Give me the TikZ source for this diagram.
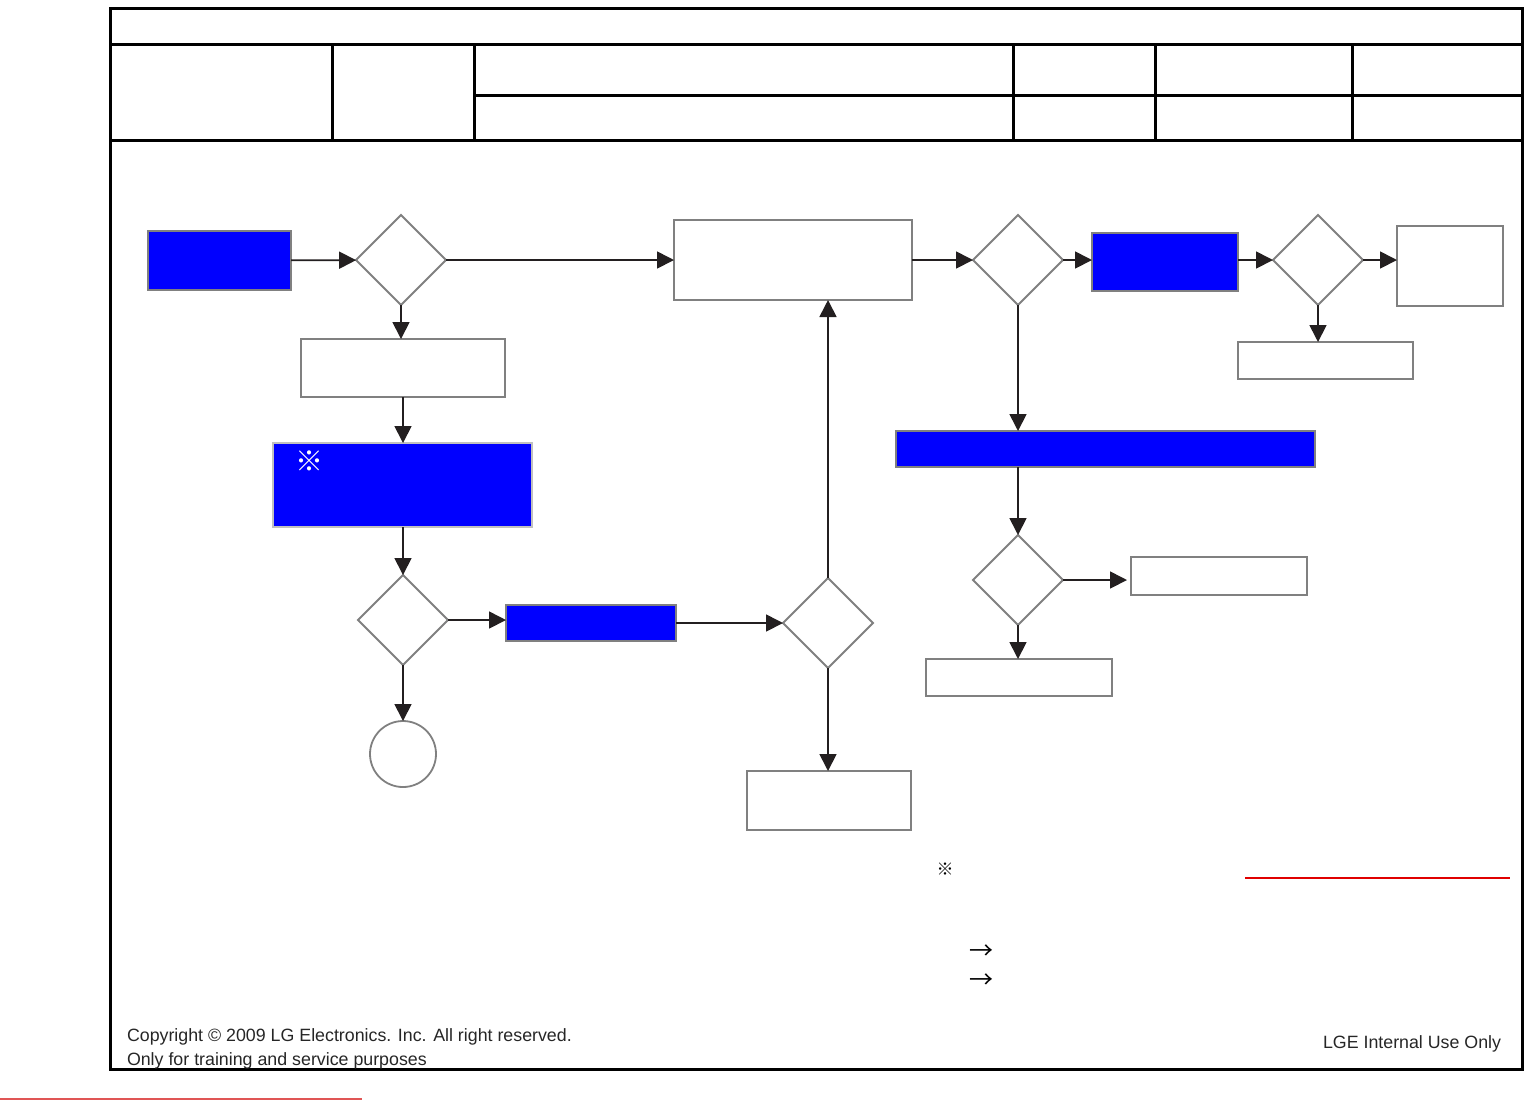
\documentclass[tikz,border=0pt]{standalone}
\usepackage{fontspec}
\setmainfont{Liberation Sans}
\newfontfamily\cjk{Noto Sans CJK SC}
\usetikzlibrary{shapes.geometric,arrows.meta}
\definecolor{pblue}{HTML}{0000FF}
\definecolor{bord}{HTML}{808080}
\definecolor{lbord}{HTML}{C0C0C0}
\definecolor{ink}{HTML}{231F20}
\definecolor{redl}{HTML}{E00000}
\definecolor{redm}{HTML}{E05555}
\tikzset{
  frame/.style={line width=1.5pt, black},
  wbox/.style={rectangle, draw=bord, fill=white, line width=0.9pt, inner sep=0pt, outer sep=0pt},
  bbox/.style={rectangle, draw=bord, fill=pblue, line width=0.9pt, inner sep=0pt, outer sep=0pt},
  dia/.style={diamond, draw=bord, fill=white, line width=1pt, inner sep=0pt, outer sep=0pt, aspect=1, minimum width=45pt, minimum height=45pt},
  conn/.style={draw=ink, line width=0.85pt, -{Triangle[length=8.5pt,width=8.5pt]}},
  txt/.style={inner sep=0pt, outer sep=0pt, font=\fontsize{8.9}{10}\selectfont, text=black!85}
}
\newcommand{\rbox}[6]{%
  \node[#6, minimum width={(#4-#2)*0.5pt}, minimum height={(#5-#3)*0.5pt}] (#1) at ({(#2+#4)/2},{(#3+#5)/2}) {};}
\begin{document}
\begin{tikzpicture}[x=0.5pt,y=-0.5pt]
\useasboundingbox (0,0) rectangle (1540,1100);
% frame and header
\draw[frame] (110,8) rectangle (1522,1069);
\draw[frame] (110,44) -- (1522,44);
\draw[frame] (474,95) -- (1522,95);
\draw[frame] (110,140) -- (1522,140);
\foreach \xx in {332,474,1013,1155,1352} \draw[frame] (\xx,44) -- (\xx,142);
% red lines
\draw[redm, line width=0.6pt] (0,1099) -- (362,1099);
\draw[redl, line width=0.6pt] (1245,878) -- (1510,878);
% boxes
\rbox{b1}{148}{231}{291}{290}{bbox}
\rbox{r1}{674}{220}{912}{300}{wbox}
\rbox{r2}{301}{339}{505}{397}{wbox}
\rbox{b2}{273}{443}{532}{527}{bbox, draw=lbord}
\rbox{b3}{506}{605}{676}{641}{bbox}
\rbox{r3}{747}{771}{911}{830}{wbox}
\rbox{b4}{1092}{233}{1238}{291}{bbox}
\rbox{r4}{1397}{226}{1503}{306}{wbox}
\rbox{r5}{1238}{342}{1413}{379}{wbox}
\rbox{b5}{896}{431}{1315}{467}{bbox}
\rbox{r6}{1131}{557}{1307}{595}{wbox}
\rbox{r7}{926}{659}{1112}{696}{wbox}
% diamonds
\node[dia] (d1) at (401,260) {};
\node[dia] (d2) at (403,620) {};
\node[dia] (d3) at (828,623) {};
\node[dia] (d4) at (1018,260) {};
\node[dia] (d5) at (1318,260) {};
\node[dia] (d6) at (1018,580) {};
\node[circle, draw=bord, line width=0.9pt, inner sep=0pt, outer sep=0pt, minimum size=33pt] (c1) at (403,754) {};
% connectors
\draw[conn] (b1) -- (d1);
\draw[conn] (d1.east) -- (d1.east -| r1.west);
\draw[conn] (d1.south) -- (d1.south |- r2.north);
\draw[conn] (r2.south) -- (r2.south |- b2.north);
\draw[conn] (d2.north |- b2.south) -- (d2.north);
\draw[conn] (d2.east) -- (d2.east -| b3.west);
\draw[conn] (d2.south) -- (c1.north);
\draw[conn] (b3.east |- d3.west) -- (d3.west);
\draw[conn] (d3.north) -- (d3.north |- r1.south);
\draw[conn] (d3.south) -- (d3.south |- r3.north);
\draw[conn] (r1.east |- d4.west) -- (d4.west);
\draw[conn] (d4.east) -- (d4.east -| b4.west);
\draw[conn] (b4.east |- d5.west) -- (d5.west);
\draw[conn] (d5.east) -- (d5.east -| r4.west);
\draw[conn] (d5.south) -- (d5.south |- r5.north);
\draw[conn] (d4.south) -- (d4.south |- b5.north);
\draw[conn] (d6.north |- b5.south) -- (d6.north);
\draw[conn] (d6.east) -- ([xshift=-2pt]d6.east -| r6.west);
\draw[conn] (d6.south) -- (d6.south |- r7.north);
% marks
\node[inner sep=0pt, text=white, font=\cjk\bfseries\fontsize{14}{14}\selectfont] (m1) at (309,461) {※};
\node[inner sep=0pt, text=black, font=\cjk\bfseries\fontsize{8.5}{9}\selectfont] (m2) at (945,869) {※};
\node[inner sep=0pt, text=black, font=\cjk\fontsize{12}{12}\selectfont] (a1) at (981,952) {→};
\node[inner sep=0pt, text=black, font=\cjk\fontsize{12}{12}\selectfont] (a2) at (981,981) {→};
% footer text
\node[txt, anchor=base west] (cp1) at (127,1041) {Copyright © 2009 LG Electronics. Inc. All right reserved.};
\node[txt, anchor=base west] (cp2) at (127,1065) {Only for training and service purposes};
\node[txt, anchor=base west] (lge) at (1323,1048) {LGE Internal Use Only};
\end{tikzpicture}
\end{document}
